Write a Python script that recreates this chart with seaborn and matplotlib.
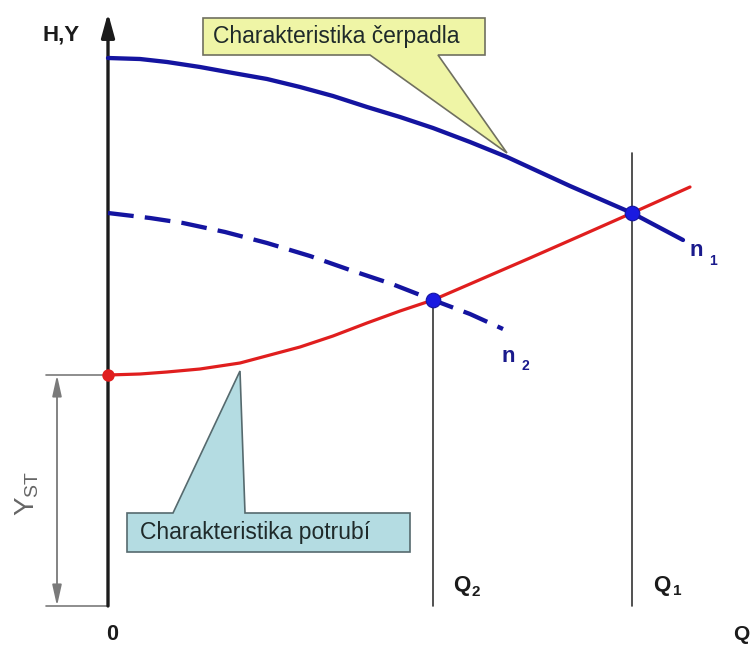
import numpy as np
import pandas as pd
import matplotlib
matplotlib.use("Agg")
import matplotlib.pyplot as plt
from matplotlib.patches import Polygon
import seaborn as sns

# ---- data (Q = flow, H = head) ----
n1_Q = [0, 32, 59, 92, 125, 159, 192, 225, 259, 292, 325, 362, 399, 462, 524, 575]
n1_H = [548, 547, 544, 539, 533, 527, 519, 510, 499, 489, 478, 464, 449, 420, 393, 366]

n2_Q = [0, 42, 75, 117, 159, 202, 242, 284, 325, 362, 395]
n2_H = [393, 388, 383, 374, 363, 350, 336, 322, 306, 292, 277]

pipe_Q = [0, 32, 59, 92, 132, 162, 192, 225, 259, 292, 325, 362, 422, 472, 524, 582]
pipe_H = [231, 232, 234, 237, 243, 251, 259, 270, 283, 295, 306, 322, 348, 370, 393, 419]

op_Q = [325, 524]          # Q2, Q1
op_H = [306, 393]
static_Q = [0]
static_H = [231]           # Y_ST
q1_line_top = 453

pump_label = "Charakteristika čerpadla"
pipe_label = "Charakteristika potrubí"

BLUE = "#1414a0"
RED = "#e01e1e"
DARK = "#1b1b1b"

sns.set_theme(style="white")
plt.rcParams["font.family"] = ["Liberation Sans", "DejaVu Sans"]
plt.rcParams["mathtext.default"] = "regular"

fig = plt.figure(figsize=(7.5, 6.46), dpi=100)
ax = fig.add_axes([0, 0, 1, 1])
ax.set_xlim(-108, 642)
ax.set_ylim(-40, 606)
ax.axis("off")


def P(x, y):
    """pixel position of the reference -> data coords (for decorations)"""
    return (x - 108, 606 - y)


# callouts (drawn first, under the curves)
yel = [P(203, 18), P(485, 18), P(485, 55), P(438, 55), P(507, 153), P(370, 55), P(203, 55)]
ax.add_patch(Polygon(yel, closed=True, facecolor="#eff5a6", edgecolor="#707060", lw=1.2, zorder=1))
ax.text(*P(213, 37), pump_label, fontsize=16.5, color="#1f2a2a", va="center", ha="left", zorder=2)

blu = [P(127, 513), P(173, 513), P(240, 371), P(245, 513), P(410, 513), P(410, 552), P(127, 552)]
ax.add_patch(Polygon(blu, closed=True, facecolor="#b4dce2", edgecolor="#566a6e", lw=1.2, zorder=1))
ax.text(*P(140, 533), pipe_label, fontsize=16.5, color="#1f2a2a", va="center", ha="left", zorder=2)

# axes with arrows
ax.annotate("", xy=(0, 593), xytext=(0, 0),
            arrowprops=dict(arrowstyle="-|>,head_length=0.8,head_width=0.22", lw=2.4,
                            color=DARK, mutation_scale=18, shrinkA=0, shrinkB=0), zorder=3)
ax.annotate("", xy=(645, 0), xytext=(0, 0),
            arrowprops=dict(arrowstyle="-|>,head_length=0.8,head_width=0.22", lw=2.0,
                            color=DARK, mutation_scale=18, shrinkA=0, shrinkB=0), zorder=3)

# vertical lines at operating points
ax.plot([op_Q[0], op_Q[0]], [0, op_H[0]], color="#333333", lw=1.2, zorder=2)
ax.plot([op_Q[1], op_Q[1]], [0, q1_line_top], color="#333333", lw=1.2, zorder=2)

# curves
df1 = pd.DataFrame({"Q": n1_Q, "H": n1_H})
df2 = pd.DataFrame({"Q": n2_Q, "H": n2_H})
dfp = pd.DataFrame({"Q": pipe_Q, "H": pipe_H})
sns.lineplot(data=dfp, x="Q", y="H", ax=ax, color=RED, lw=2.3, sort=False, estimator=None, zorder=4)
sns.lineplot(data=df1, x="Q", y="H", ax=ax, color=BLUE, lw=3.1, sort=False, estimator=None, zorder=5)
sns.lineplot(data=df2, x="Q", y="H", ax=ax, color=BLUE, lw=3.1, sort=False, estimator=None,
             linestyle=(0, (6.0, 2.6)), zorder=5)

sns.scatterplot(x=op_Q, y=op_H, ax=ax, color="#1a1ae0", s=110, edgecolor=BLUE, linewidth=0.8, zorder=6)
sns.scatterplot(x=static_Q, y=static_H, ax=ax, color=RED, s=80, edgecolor=RED, linewidth=0, zorder=6)

# Y_ST dimension
GR = "#7a7a7a"
ax.plot([P(46, 0)[0], 0], [static_H[0], static_H[0]], color=GR, lw=1.2, zorder=2)
ax.plot([P(46, 0)[0], 0], [0, 0], color=GR, lw=1.2, zorder=2)
ax.annotate("", xy=(P(57, 0)[0], static_H[0]), xytext=(P(57, 0)[0], 0),
            arrowprops=dict(arrowstyle="<|-|>,head_length=0.9,head_width=0.2", lw=1.3,
                            color=GR, mutation_scale=14, shrinkA=0, shrinkB=0), zorder=2)
ax.text(*P(27, 493), r"$Y_{ST}$", rotation=90, fontsize=20, color="#666666",
        ha="center", va="center")

# labels
ax.text(*P(61, 35), "H,Y", fontsize=16, fontweight="bold", color=DARK, ha="center", va="center")
ax.text(*P(112, 635), "0", fontsize=15.5, fontweight="bold", color=DARK, ha="center", va="center")
ax.text(*P(749, 634), "Q", fontsize=15, fontweight="bold", color=DARK, ha="right", va="center")

ax.text(*P(462, 586), "Q", fontsize=16, fontweight="bold", color=DARK, ha="center", va="center")
ax.text(*P(476, 592), "2", fontsize=11, fontweight="bold", color=DARK, ha="center", va="center")
ax.text(*P(662, 585), "Q", fontsize=16, fontweight="bold", color=DARK, ha="center", va="center")
ax.text(*P(677, 591), "1", fontsize=11, fontweight="bold", color=DARK, ha="center", va="center")

NB = "#1a1a8c"
ax.text(*P(696, 251), "n", fontsize=16, fontweight="bold", color=NB, ha="center", va="center")
ax.text(*P(713, 261), "1", fontsize=10, fontweight="bold", color=NB, ha="center", va="center")
ax.text(*P(508, 356), "n", fontsize=16, fontweight="bold", color=NB, ha="center", va="center")
ax.text(*P(525, 366), "2", fontsize=10, fontweight="bold", color=NB, ha="center", va="center")

fig.savefig("out.png", dpi=100)
